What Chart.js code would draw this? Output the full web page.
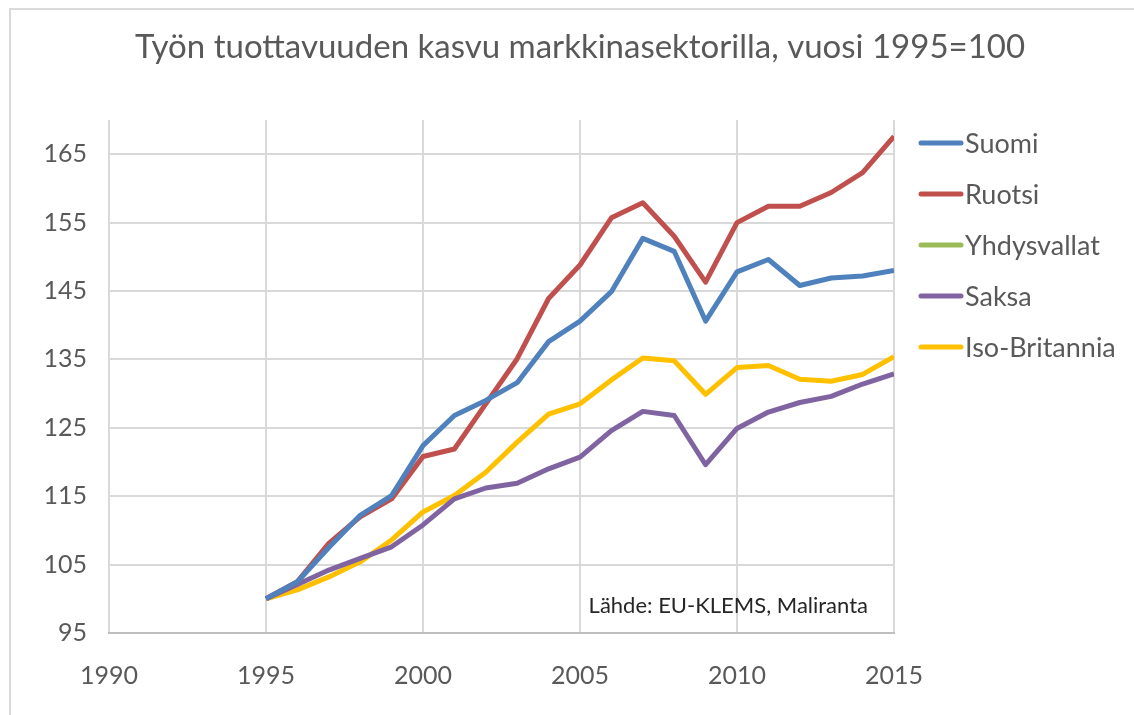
<!DOCTYPE html>
<html>
<head>
<meta charset="utf-8">
<script src="https://cdn.jsdelivr.net/npm/chart.js@4"></script>
<style>
  html, body { margin: 0; padding: 0; background: #fff; }
  #wrap { position: relative; width: 1134px; height: 715px; overflow: hidden; }
  #frame { position: absolute; left: 9px; top: 8px; width: 1200px; height: 800px; border-left: 2px solid #d9d9d9; border-top: 2px solid #d9d9d9; }
  canvas { position: absolute; left: 0; top: 0; }
</style>
</head>
<body>
<div id="wrap">
  <div id="frame"></div>
  <canvas id="chart" width="1134" height="715"></canvas>
</div>
<script>
const titleText = 'Työn tuottavuuden kasvu markkinasektorilla, vuosi 1995=100';
const sourceText = 'Lähde: EU-KLEMS, Maliranta';

const years = [1995, 1996, 1997, 1998, 1999, 2000, 2001, 2002, 2003, 2004, 2005,
               2006, 2007, 2008, 2009, 2010, 2011, 2012, 2013, 2014, 2015];

const suomi = [100, 102.5, 107.5, 112.2, 115.1, 122.4, 126.8, 129.0, 131.6, 137.6, 140.6,
               144.9, 152.7, 150.8, 140.6, 147.8, 149.6, 145.8, 146.9, 147.2, 148.0];
const ruotsi = [100, 102.5, 108.1, 112.0, 114.6, 120.8, 121.9, 128.5, 135.1, 143.9, 148.8,
                155.7, 157.9, 153.0, 146.3, 155.0, 157.4, 157.4, 159.4, 162.3, 167.6];
const yhdysvallat = []; // not shown in the picture, legend only
const saksa = [100, 102.1, 104.2, 105.9, 107.6, 110.8, 114.6, 116.2, 116.9, 119.0, 120.7,
               124.6, 127.4, 126.8, 119.6, 124.9, 127.3, 128.7, 129.6, 131.4, 132.9];
const isoBritannia = [100, 101.3, 103.2, 105.4, 108.6, 112.7, 115.1, 118.5, 122.9, 127.0, 128.5,
                      132.0, 135.2, 134.8, 129.9, 133.8, 134.1, 132.1, 131.8, 132.8, 135.4];

const xTicks = [1990, 1995, 2000, 2005, 2010, 2015];
const yTicks = [95, 105, 115, 125, 135, 145, 155, 165];

const FONT = 'Lato, "Open Sans", sans-serif';
const GREY = '#595959';

function toPoints(values) {
    return values.map((v, i) => ({ x: years[i], y: v }));
}

function series(label, values, color) {
    return {
        label: label,
        data: toPoints(values),
        borderColor: color,
        backgroundColor: color,
        borderWidth: 5,
        pointRadius: 0,
        tension: 0,
        borderJoinStyle: 'round'
    };
}

// title, legend on the right and the source note
const decorations = {
    id: 'decorations',
    afterDraw(chart) {
        const ctx = chart.ctx;
        const area = chart.chartArea;
        ctx.save();

        ctx.fillStyle = GREY;
        ctx.font = '33px ' + FONT;
        ctx.textAlign = 'center';
        ctx.textBaseline = 'middle';
        ctx.fillText(titleText, 580, 47);

        ctx.font = '27px ' + FONT;
        ctx.textAlign = 'left';
        chart.data.datasets.forEach((ds, i) => {
            const y = 143 + i * 51;
            ctx.strokeStyle = ds.borderColor;
            ctx.lineWidth = 5;
            ctx.lineCap = 'round';
            ctx.beginPath();
            ctx.moveTo(921, y);
            ctx.lineTo(961, y);
            ctx.stroke();
            ctx.fillStyle = GREY;
            ctx.fillText(ds.label, 965, y + 1);
        });

        ctx.fillStyle = '#262626';
        ctx.font = '22px ' + FONT;
        ctx.textAlign = 'right';
        ctx.fillText(sourceText, area.right - 26, 606);
        ctx.restore();
    }
};

new Chart(document.getElementById('chart'), {
    type: 'line',
    data: {
        datasets: [
            series('Suomi', suomi, '#4f81bd'),
            series('Ruotsi', ruotsi, '#c0504d'),
            series('Yhdysvallat', yhdysvallat, '#9bbb59'),
            series('Saksa', saksa, '#8064a2'),
            series('Iso-Britannia', isoBritannia, '#ffc000')
        ]
    },
    options: {
        responsive: false,
        animation: false,
        layout: { padding: { left: 0, right: 240, top: 120, bottom: 0 } },
        plugins: {
            legend: { display: false },
            title: { display: false },
            tooltip: { enabled: false }
        },
        scales: {
            x: {
                type: 'linear',
                min: 1990,
                max: 2015,
                afterBuildTicks: scale => { scale.ticks = xTicks.map(v => ({ value: v })); },
                afterFit: scale => { scale.height = 82; },
                grid: { color: '#d9d9d9', lineWidth: 2, drawTicks: false },
                border: { color: '#bfbfbf', width: 2 },
                ticks: {
                    color: GREY,
                    font: { family: FONT, size: 25 },
                    padding: 28,
                    maxRotation: 0,
                    callback: v => String(v)
                }
            },
            y: {
                min: 95,
                max: 170,
                afterBuildTicks: scale => { scale.ticks = yTicks.map(v => ({ value: v })); },
                afterFit: scale => { scale.width = 109; },
                grid: { color: '#d9d9d9', lineWidth: 2, drawTicks: false },
                border: { display: false },
                ticks: {
                    color: GREY,
                    font: { family: FONT, size: 25 },
                    padding: 22
                }
            }
        }
    },
    plugins: [decorations]
});
</script>
</body>
</html>
